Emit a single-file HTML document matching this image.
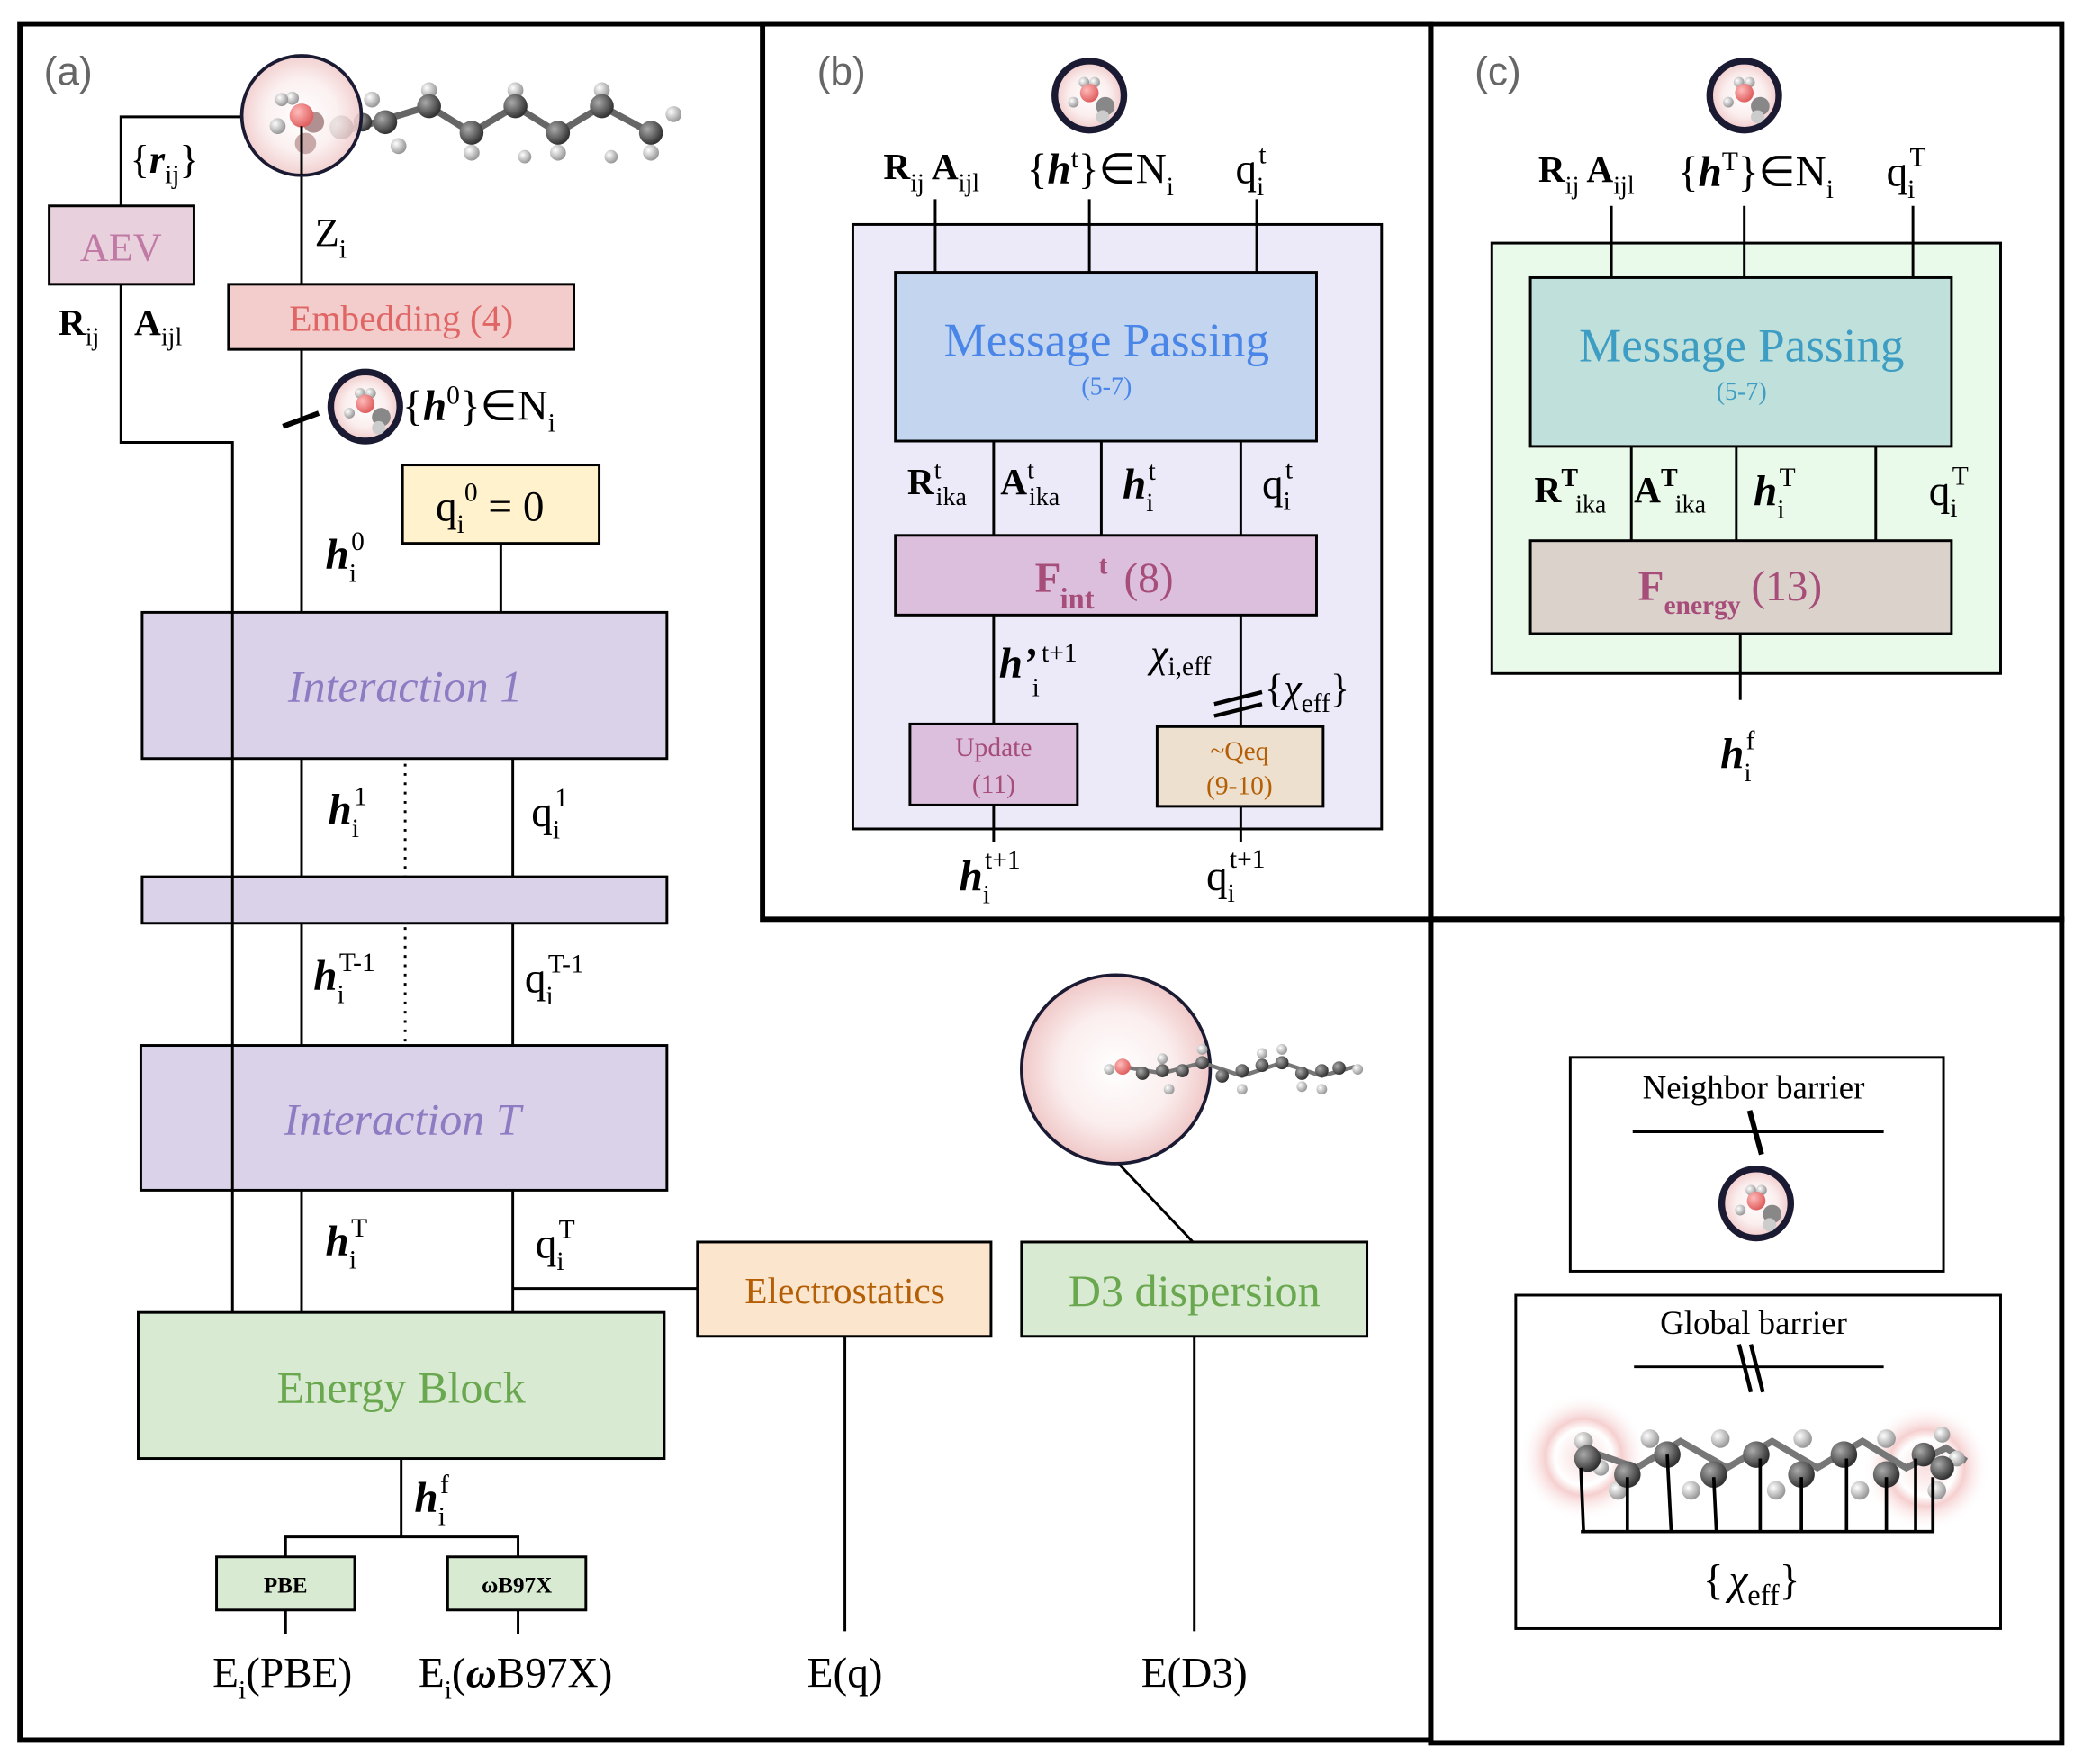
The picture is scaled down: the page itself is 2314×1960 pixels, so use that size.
<!DOCTYPE html>
<html><head><meta charset="utf-8"><style>
html,body{margin:0;padding:0;background:#fff;}
svg{display:block;}
text{font-family:"Liberation Serif",serif;fill:#000;}
</style></head><body>
<svg width="2314" height="1960" viewBox="0 0 1568 1328" preserveAspectRatio="none" xmlns="http://www.w3.org/2000/svg">
<defs>
<radialGradient id="pk" cx="50%" cy="50%" r="50%"><stop offset="0" stop-color="#fff"/><stop offset="0.6" stop-color="#fbeeee"/><stop offset="1" stop-color="#f0c8c8"/></radialGradient>
<radialGradient id="cg" cx="35%" cy="35%" r="65%"><stop offset="0" stop-color="#aaa"/><stop offset="1" stop-color="#333"/></radialGradient>
<radialGradient id="hg" cx="35%" cy="35%" r="65%"><stop offset="0" stop-color="#fff"/><stop offset="1" stop-color="#999"/></radialGradient>
<radialGradient id="og" cx="35%" cy="35%" r="65%"><stop offset="0" stop-color="#fbb"/><stop offset="1" stop-color="#e06060"/></radialGradient>
<radialGradient id="glow" cx="50%" cy="50%" r="50%"><stop offset="0" stop-color="#f4c0c0" stop-opacity="0.5"/><stop offset="0.45" stop-color="#fff" stop-opacity="0.6"/><stop offset="0.6" stop-color="#f0b0b0" stop-opacity="0.6"/><stop offset="1" stop-color="#fff" stop-opacity="0"/></radialGradient>
<g id="mini">
<circle cx="0" cy="0" r="26" fill="url(#pk)" stroke="#1a1a33" stroke-width="5"/>
<circle cx="-4" cy="-10" r="4" fill="url(#hg)"/><circle cx="4" cy="-10" r="4" fill="url(#hg)"/>
<circle cx="-12" cy="5" r="4" fill="url(#hg)"/>
<circle cx="0" cy="-2" r="7" fill="url(#og)"/>
<circle cx="12" cy="8" r="7" fill="#888"/><circle cx="10" cy="16" r="5" fill="#ccc"/>
</g>
</defs>

<rect x="15" y="18" width="1062" height="1292" fill="none" stroke="#000" stroke-width="4"/>
<rect x="574" y="18" width="503" height="674" fill="none" stroke="#000" stroke-width="4"/>
<rect x="1077" y="18" width="475" height="674" fill="none" stroke="#000" stroke-width="4"/>
<rect x="1077" y="692" width="475" height="620" fill="none" stroke="#000" stroke-width="4"/>

<!-- (a) -->
<text x="33" y="64" style="font-family:'Liberation Sans',sans-serif;fill:#666" font-size="30">(a)</text>
<g stroke="#000" stroke-width="2" fill="none">
<polyline points="183,88 91,88 91,155"/>
<polyline points="91,214 91,333 175,333 175,988"/>
<line x1="227" y1="95" x2="227" y2="214"/>
<line x1="227" y1="263" x2="227" y2="461"/>
<line x1="377" y1="409" x2="377" y2="461"/>
<line x1="227" y1="571" x2="227" y2="660"/><line x1="386" y1="571" x2="386" y2="660"/>
<line x1="227" y1="695" x2="227" y2="787"/><line x1="386" y1="695" x2="386" y2="787"/>
<line x1="227" y1="896" x2="227" y2="988"/><line x1="386" y1="896" x2="386" y2="988"/>
<line x1="386" y1="970" x2="525" y2="970"/>
<line x1="302" y1="1098" x2="302" y2="1157"/>
<polyline points="215,1172 215,1157 390,1157 390,1172"/>
<line x1="215" y1="1212" x2="215" y2="1230"/><line x1="390" y1="1212" x2="390" y2="1230"/>
<line x1="636" y1="1006" x2="636" y2="1228"/>
<line x1="899" y1="1006" x2="899" y2="1228"/>
<line x1="842" y1="876" x2="898" y2="935"/>
</g>
<line x1="305" y1="575" x2="305" y2="660" stroke="#000" stroke-width="2" stroke-dasharray="2,5"/>
<line x1="305" y1="698" x2="305" y2="785" stroke="#000" stroke-width="2" stroke-dasharray="2,5"/>
<line x1="213" y1="321" x2="240" y2="311" stroke="#000" stroke-width="4"/>

<g>
<polyline points="255,100 290,90 323,80 355,100 388,80 420,100 453,80 490,100" fill="none" stroke="#666" stroke-width="5"/>
<g fill="url(#hg)">
<circle cx="280" cy="75" r="6"/><circle cx="323" cy="68" r="6"/><circle cx="355" cy="115" r="6"/><circle cx="388" cy="68" r="6"/><circle cx="420" cy="115" r="6"/><circle cx="453" cy="68" r="6"/><circle cx="490" cy="115" r="6"/><circle cx="507" cy="86" r="6"/><circle cx="300" cy="110" r="6"/><circle cx="395" cy="118" r="5"/><circle cx="460" cy="118" r="5"/>
</g>
<g fill="url(#cg)">
<circle cx="257" cy="96" r="9"/><circle cx="290" cy="92" r="9"/><circle cx="323" cy="80" r="9"/><circle cx="355" cy="100" r="9"/><circle cx="388" cy="80" r="9"/><circle cx="420" cy="100" r="9"/><circle cx="453" cy="80" r="9"/><circle cx="490" cy="100" r="9"/><circle cx="273" cy="92" r="7"/>
</g>
</g>
<ellipse cx="227" cy="87" rx="45" ry="45" fill="url(#pk)" fill-opacity="0.85" stroke="#1a1a33" stroke-width="2.5"/>
<circle cx="230" cy="108" r="8" fill="#c9a8a8"/><circle cx="236" cy="92" r="8" fill="#b09090"/>
<circle cx="209" cy="95" r="6" fill="url(#hg)"/><circle cx="220" cy="74" r="5" fill="url(#hg)"/><circle cx="212" cy="75" r="5" fill="url(#hg)"/>
<circle cx="227" cy="87" r="9" fill="url(#og)"/>
<line x1="227" y1="95" x2="227" y2="132" stroke="#000" stroke-width="2"/>

<text x="98" y="130" font-size="30">{<tspan font-weight="bold" font-style="italic">r</tspan><tspan font-size="20" dy="8">ij</tspan><tspan dy="-8">}</tspan></text>
<rect x="37" y="155" width="109" height="59" fill="#e8d0dc" stroke="#000" stroke-width="2"/>
<text x="91" y="196" font-size="30" text-anchor="middle" style="fill:#c07aa5">AEV</text>
<text x="44" y="252" font-size="28" font-weight="bold">R<tspan font-size="19" font-weight="normal" dy="8">ij</tspan></text>
<text x="101" y="252" font-size="28" font-weight="bold">A<tspan font-size="19" font-weight="normal" dy="8">ijl</tspan></text>
<text x="237" y="185" font-size="30">Z<tspan font-size="20" dy="9">i</tspan></text>
<rect x="172" y="214" width="260" height="49" fill="#f3cccc" stroke="#000" stroke-width="2"/>
<text x="302" y="249" font-size="28" text-anchor="middle" style="fill:#e06666">Embedding (4)</text>
<use href="#mini" x="275" y="306"/>
<text x="303" y="316" font-size="32">{<tspan font-weight="bold" font-style="italic">h</tspan><tspan font-size="20" dy="-12">0</tspan><tspan dy="12">}∈N</tspan><tspan font-size="20" dy="9">i</tspan></text>
<rect x="303" y="350" width="148" height="59" fill="#fff2cc" stroke="#000" stroke-width="2"/>
<text x="328" y="392" font-size="32">q<tspan font-size="20" dy="9">i</tspan><tspan font-size="20" dy="-24">0</tspan><tspan dy="15"> = 0</tspan></text>
<text x="245" y="428" font-size="32" font-weight="bold" font-style="italic">h<tspan font-size="20" font-weight="normal" font-style="normal" dy="10">i</tspan><tspan font-size="20" font-weight="normal" font-style="normal" dy="-24" dx="-4">0</tspan></text>

<rect x="107" y="461" width="395" height="110" fill="#d9d2e9" stroke="#000" stroke-width="2"/>
<text x="305" y="528" font-size="34" font-style="italic" text-anchor="middle" style="fill:#8e7cc3">Interaction 1</text>
<line x1="175" y1="461" x2="175" y2="571" stroke="#000" stroke-width="2"/>
<text x="247" y="620" font-size="32" font-weight="bold" font-style="italic">h<tspan font-size="20" font-weight="normal" font-style="normal" dy="10">i</tspan><tspan font-size="20" font-weight="normal" font-style="normal" dy="-24" dx="-4">1</tspan></text>
<text x="400" y="622" font-size="32">q<tspan font-size="20" dy="9">i</tspan><tspan font-size="20" dy="-24" dx="-4">1</tspan></text>
<rect x="107" y="660" width="395" height="35" fill="#d9d2e9" stroke="#000" stroke-width="2"/>
<line x1="175" y1="660" x2="175" y2="695" stroke="#000" stroke-width="2"/>
<text x="236" y="745" font-size="32" font-weight="bold" font-style="italic">h<tspan font-size="20" font-weight="normal" font-style="normal" dy="10">i</tspan><tspan font-size="20" font-weight="normal" font-style="normal" dy="-24" dx="-4">T-1</tspan></text>
<text x="395" y="747" font-size="32">q<tspan font-size="20" dy="9">i</tspan><tspan font-size="20" dy="-24" dx="-4">T-1</tspan></text>
<rect x="106" y="787" width="396" height="109" fill="#d9d2e9" stroke="#000" stroke-width="2"/>
<line x1="175" y1="787" x2="175" y2="896" stroke="#000" stroke-width="2"/>
<text x="303" y="854" font-size="34" font-style="italic" text-anchor="middle" style="fill:#8e7cc3">Interaction T</text>
<text x="245" y="945" font-size="32" font-weight="bold" font-style="italic">h<tspan font-size="20" font-weight="normal" font-style="normal" dy="10">i</tspan><tspan font-size="20" font-weight="normal" font-style="normal" dy="-24" dx="-4">T</tspan></text>
<text x="403" y="947" font-size="32">q<tspan font-size="20" dy="9">i</tspan><tspan font-size="20" dy="-24" dx="-4">T</tspan></text>

<rect x="104" y="988" width="396" height="110" fill="#d9ead3" stroke="#000" stroke-width="2"/>
<text x="302" y="1056" font-size="34" text-anchor="middle" style="fill:#6aa84f">Energy Block</text>
<text x="312" y="1138" font-size="32" font-weight="bold" font-style="italic">h<tspan font-size="20" font-weight="normal" font-style="normal" dy="10">i</tspan><tspan font-size="20" font-weight="normal" font-style="normal" dy="-24" dx="-4">f</tspan></text>
<rect x="163" y="1172" width="104" height="40" fill="#d9ead3" stroke="#000" stroke-width="2"/>
<text x="215" y="1199" font-size="17" font-weight="bold" text-anchor="middle">PBE</text>
<rect x="337" y="1172" width="104" height="40" fill="#d9ead3" stroke="#000" stroke-width="2"/>
<text x="389" y="1199" font-size="17" font-weight="bold" text-anchor="middle">ωB97X</text>
<text x="160" y="1270" font-size="32">E<tspan font-size="20" dy="9">i</tspan><tspan dy="-9">(PBE)</tspan></text>
<text x="315" y="1270" font-size="32">E<tspan font-size="20" dy="9">i</tspan><tspan dy="-9">(<tspan font-weight="bold" font-style="italic">ω</tspan>B97X)</tspan></text>

<rect x="525" y="935" width="221" height="71" fill="#fce5cd" stroke="#000" stroke-width="2"/>
<text x="636" y="981" font-size="28" text-anchor="middle" style="fill:#b45f06">Electrostatics</text>
<rect x="769" y="935" width="260" height="71" fill="#d9ead3" stroke="#000" stroke-width="2"/>
<text x="899" y="983" font-size="34" text-anchor="middle" style="fill:#6aa84f">D3 dispersion</text>
<text x="636" y="1270" font-size="32" text-anchor="middle">E(q)</text>
<text x="899" y="1270" font-size="32" text-anchor="middle">E(D3)</text>

<circle cx="840" cy="805" r="71" fill="url(#pk)" stroke="#1a1a33" stroke-width="2.5"/>
<polyline points="845,803 875,808 905,800 935,810 965,800 995,810 1020,803" fill="none" stroke="#777" stroke-width="3"/>
<g fill="url(#hg)"><circle cx="835" cy="805" r="4"/><circle cx="875" cy="797" r="4"/><circle cx="905" cy="790" r="4"/><circle cx="935" cy="820" r="4"/><circle cx="965" cy="790" r="4"/><circle cx="995" cy="820" r="4"/><circle cx="1022" cy="805" r="4"/><circle cx="880" cy="820" r="4"/><circle cx="950" cy="793" r="4"/><circle cx="980" cy="818" r="4"/></g>
<g fill="url(#cg)"><circle cx="860" cy="808" r="5"/><circle cx="875" cy="806" r="5"/><circle cx="890" cy="806" r="5"/><circle cx="905" cy="800" r="5"/><circle cx="920" cy="810" r="5"/><circle cx="935" cy="806" r="5"/><circle cx="950" cy="802" r="5"/><circle cx="965" cy="800" r="5"/><circle cx="980" cy="808" r="5"/><circle cx="995" cy="806" r="5"/><circle cx="1008" cy="804" r="5"/></g>
<circle cx="845" cy="803" r="6" fill="url(#og)"/>

<!-- (b) -->
<text x="615" y="64" style="font-family:'Liberation Sans',sans-serif;fill:#666" font-size="30">(b)</text>
<use href="#mini" x="820" y="72"/>
<text x="665" y="135" font-size="28" font-weight="bold">R<tspan font-size="19" font-weight="normal" dy="9">ij</tspan><tspan dy="-9"> A</tspan><tspan font-size="19" font-weight="normal" dy="9">ijl</tspan></text>
<text x="773" y="138" font-size="32">{<tspan font-weight="bold" font-style="italic">h</tspan><tspan font-size="20" dy="-12">t</tspan><tspan dy="12">}∈N</tspan><tspan font-size="20" dy="9">i</tspan></text>
<text x="930" y="138" font-size="32">q<tspan font-size="20" dy="9">i</tspan><tspan font-size="20" dy="-24" dx="-4">t</tspan></text>
<rect x="642" y="169" width="398" height="455" fill="#eceaf9" stroke="#000" stroke-width="2"/>
<g stroke="#000" stroke-width="2">
<line x1="704" y1="150" x2="704" y2="205"/><line x1="820" y1="150" x2="820" y2="205"/><line x1="946" y1="150" x2="946" y2="205"/>
<line x1="748" y1="332" x2="748" y2="403"/><line x1="829" y1="332" x2="829" y2="403"/><line x1="934" y1="332" x2="934" y2="403"/>
<line x1="748" y1="463" x2="748" y2="545"/><line x1="934" y1="463" x2="934" y2="547"/>
<line x1="748" y1="606" x2="748" y2="634"/><line x1="934" y1="607" x2="934" y2="634"/>
</g>
<rect x="674" y="205" width="317" height="127" fill="#c4d5f0" stroke="#000" stroke-width="2"/>
<text x="833" y="268" font-size="36" text-anchor="middle" style="fill:#4a86e8">Message Passing</text>
<text x="833" y="297" font-size="19" text-anchor="middle" style="fill:#4a86e8">(5-7)</text>
<text x="683" y="372" font-size="28" font-weight="bold">R<tspan font-size="19" font-weight="normal" dy="-12">t</tspan><tspan font-size="19" font-weight="normal" dy="20" dx="-4">ika</tspan></text>
<text x="753" y="372" font-size="28" font-weight="bold">A<tspan font-size="19" font-weight="normal" dy="-12">t</tspan><tspan font-size="19" font-weight="normal" dy="20" dx="-4">ika</tspan></text>
<text x="845" y="375" font-size="32" font-weight="bold" font-style="italic">h<tspan font-size="20" font-weight="normal" font-style="normal" dy="10">i</tspan><tspan font-size="20" font-weight="normal" font-style="normal" dy="-24" dx="-4">t</tspan></text>
<text x="950" y="375" font-size="32">q<tspan font-size="20" dy="9">i</tspan><tspan font-size="20" dy="-24" dx="-4">t</tspan></text>
<rect x="674" y="403" width="317" height="60" fill="#dbbfdd" stroke="#000" stroke-width="2"/>
<text x="779" y="446" font-size="32" font-weight="bold" style="fill:#a64d79">F</text>
<text x="798" y="458" font-size="22" font-weight="bold" style="fill:#a64d79">int</text>
<text x="827" y="432" font-size="20" font-weight="bold" style="fill:#a64d79">t</text>
<text x="846" y="446" font-size="32" style="fill:#a64d79">(8)</text>
<text x="752" y="510" font-size="32" font-weight="bold" font-style="italic">h’</text>
<text x="777" y="524" font-size="20">i</text>
<text x="784" y="498" font-size="20">t+1</text>
<text x="866" y="502" font-size="30" font-style="italic">χ<tspan font-style="normal" font-size="20" dy="6">i,eff</tspan></text>
<line x1="914" y1="530" x2="950" y2="521" stroke="#000" stroke-width="3"/>
<line x1="914" y1="539" x2="950" y2="530" stroke="#000" stroke-width="3"/>
<text x="952" y="528" font-size="30">{<tspan font-style="italic">χ</tspan><tspan font-size="20" dy="8">eff</tspan><tspan dy="-8">}</tspan></text>
<rect x="685" y="545" width="126" height="61" fill="#dbbfdd" stroke="#000" stroke-width="2"/>
<text x="748" y="569" font-size="20" text-anchor="middle" style="fill:#a64d79">Update</text>
<text x="748" y="597" font-size="20" text-anchor="middle" style="fill:#a64d79">(11)</text>
<rect x="871" y="547" width="125" height="60" fill="#ede0cf" stroke="#000" stroke-width="2"/>
<text x="933" y="572" font-size="20" text-anchor="middle" style="fill:#b45f06">~Qeq</text>
<text x="933" y="598" font-size="20" text-anchor="middle" style="fill:#b45f06">(9-10)</text>
<text x="722" y="670" font-size="32" font-weight="bold" font-style="italic">h<tspan font-size="20" font-weight="normal" font-style="normal" dy="10">i</tspan><tspan font-size="20" font-weight="normal" font-style="normal" dy="-26" dx="-4">t+1</tspan></text>
<text x="908" y="670" font-size="32">q<tspan font-size="20" dy="9">i</tspan><tspan font-size="20" dy="-26" dx="-4">t+1</tspan></text>

<!-- (c) -->
<text x="1110" y="64" style="font-family:'Liberation Sans',sans-serif;fill:#666" font-size="30">(c)</text>
<use href="#mini" x="1313" y="72"/>
<text x="1158" y="137" font-size="28" font-weight="bold">R<tspan font-size="19" font-weight="normal" dy="9">ij</tspan><tspan dy="-9"> A</tspan><tspan font-size="19" font-weight="normal" dy="9">ijl</tspan></text>
<text x="1263" y="140" font-size="32">{<tspan font-weight="bold" font-style="italic">h</tspan><tspan font-size="20" dy="-12">T</tspan><tspan dy="12">}∈N</tspan><tspan font-size="20" dy="9">i</tspan></text>
<text x="1420" y="140" font-size="32">q<tspan font-size="20" dy="9">i</tspan><tspan font-size="20" dy="-24" dx="-4">T</tspan></text>
<rect x="1123" y="183" width="383" height="324" fill="#eafaea" stroke="#000" stroke-width="2"/>
<g stroke="#000" stroke-width="2">
<line x1="1213" y1="155" x2="1213" y2="209"/><line x1="1313" y1="155" x2="1313" y2="209"/><line x1="1440" y1="155" x2="1440" y2="209"/>
<line x1="1228" y1="336" x2="1228" y2="407"/><line x1="1307" y1="336" x2="1307" y2="407"/><line x1="1412" y1="336" x2="1412" y2="407"/>
<line x1="1310" y1="477" x2="1310" y2="527"/>
</g>
<rect x="1152" y="209" width="317" height="127" fill="#c0e0dc" stroke="#000" stroke-width="2"/>
<text x="1311" y="272" font-size="36" text-anchor="middle" style="fill:#3d9dc2">Message Passing</text>
<text x="1311" y="301" font-size="19" text-anchor="middle" style="fill:#3d9dc2">(5-7)</text>
<text x="1155" y="378" font-size="28" font-weight="bold">R<tspan font-size="19" dy="-12">T</tspan><tspan font-size="19" font-weight="normal" dy="20" dx="-2">ika</tspan></text>
<text x="1230" y="378" font-size="28" font-weight="bold">A<tspan font-size="19" dy="-12">T</tspan><tspan font-size="19" font-weight="normal" dy="20" dx="-2">ika</tspan></text>
<text x="1320" y="380" font-size="32" font-weight="bold" font-style="italic">h<tspan font-size="20" font-weight="normal" font-style="normal" dy="10">i</tspan><tspan font-size="20" font-weight="normal" font-style="normal" dy="-24" dx="-4">T</tspan></text>
<text x="1452" y="380" font-size="32">q<tspan font-size="20" dy="9">i</tspan><tspan font-size="20" dy="-24" dx="-4">T</tspan></text>
<rect x="1152" y="407" width="317" height="70" fill="#dbd2cc" stroke="#000" stroke-width="2"/>
<text x="1233" y="452" font-size="32" font-weight="bold" style="fill:#a64d79">F<tspan font-size="20" dy="10">energy</tspan><tspan font-weight="normal" dy="-10" dx="8">(13)</tspan></text>
<text x="1295" y="578" font-size="32" font-weight="bold" font-style="italic">h<tspan font-size="20" font-weight="normal" font-style="normal" dy="10">i</tspan><tspan font-size="20" font-weight="normal" font-style="normal" dy="-24" dx="-4">f</tspan></text>

<!-- bottom right -->
<rect x="1182" y="796" width="281" height="161" fill="#fff" stroke="#000" stroke-width="2"/>
<text x="1320" y="827" font-size="25" text-anchor="middle">Neighbor barrier</text>
<line x1="1229" y1="852" x2="1418" y2="852" stroke="#000" stroke-width="2"/>
<line x1="1317" y1="836" x2="1326" y2="869" stroke="#000" stroke-width="4"/>
<use href="#mini" x="1322" y="906"/>

<rect x="1141" y="975" width="365" height="251" fill="#fff" stroke="#000" stroke-width="2"/>
<text x="1320" y="1004" font-size="25" text-anchor="middle">Global barrier</text>
<line x1="1230" y1="1029" x2="1418" y2="1029" stroke="#000" stroke-width="2"/>
<line x1="1309" y1="1012" x2="1318" y2="1048" stroke="#000" stroke-width="3"/>
<line x1="1318" y1="1012" x2="1327" y2="1048" stroke="#000" stroke-width="3"/>
<circle cx="1192" cy="1097" r="48" fill="url(#glow)"/>
<circle cx="1450" cy="1105" r="48" fill="url(#glow)"/>
<polyline points="1195,1092 1232,1105 1265,1085 1300,1105 1334,1085 1368,1105 1402,1085 1435,1105 1465,1090 1480,1100" fill="none" stroke="#777" stroke-width="5"/>
<g fill="url(#hg)">
<circle cx="1192" cy="1085" r="7"/><circle cx="1205" cy="1105" r="6"/><circle cx="1242" cy="1083" r="7"/><circle cx="1295" cy="1083" r="7"/><circle cx="1357" cy="1083" r="7"/><circle cx="1420" cy="1083" r="7"/><circle cx="1273" cy="1122" r="7"/><circle cx="1337" cy="1122" r="7"/><circle cx="1400" cy="1122" r="7"/><circle cx="1458" cy="1122" r="7"/><circle cx="1218" cy="1122" r="7"/><circle cx="1473" cy="1098" r="6"/><circle cx="1462" cy="1080" r="6"/>
</g>
<g fill="url(#cg)">
<circle cx="1195" cy="1098" r="10"/><circle cx="1225" cy="1110" r="10"/><circle cx="1255" cy="1095" r="10"/><circle cx="1290" cy="1110" r="10"/><circle cx="1322" cy="1095" r="10"/><circle cx="1356" cy="1110" r="10"/><circle cx="1388" cy="1095" r="10"/><circle cx="1420" cy="1110" r="10"/><circle cx="1448" cy="1095" r="9"/><circle cx="1462" cy="1105" r="9"/>
</g>
<g stroke="#000" stroke-width="2.5">
<line x1="1190" y1="1105" x2="1192" y2="1153"/><line x1="1225" y1="1112" x2="1225" y2="1153"/><line x1="1255" y1="1095" x2="1258" y2="1153"/><line x1="1290" y1="1112" x2="1292" y2="1153"/><line x1="1325" y1="1098" x2="1325" y2="1153"/><line x1="1356" y1="1112" x2="1356" y2="1153"/><line x1="1390" y1="1098" x2="1390" y2="1153"/><line x1="1420" y1="1112" x2="1420" y2="1153"/><line x1="1442" y1="1098" x2="1442" y2="1153"/><line x1="1455" y1="1112" x2="1455" y2="1153"/>
<line x1="1190" y1="1153" x2="1456" y2="1153"/>
</g>
<text x="1282" y="1200" font-size="32">{<tspan font-style="italic" dx="4">χ</tspan><tspan font-size="22" dy="8">eff</tspan><tspan dy="-8">}</tspan></text>
</svg>
</body></html>
